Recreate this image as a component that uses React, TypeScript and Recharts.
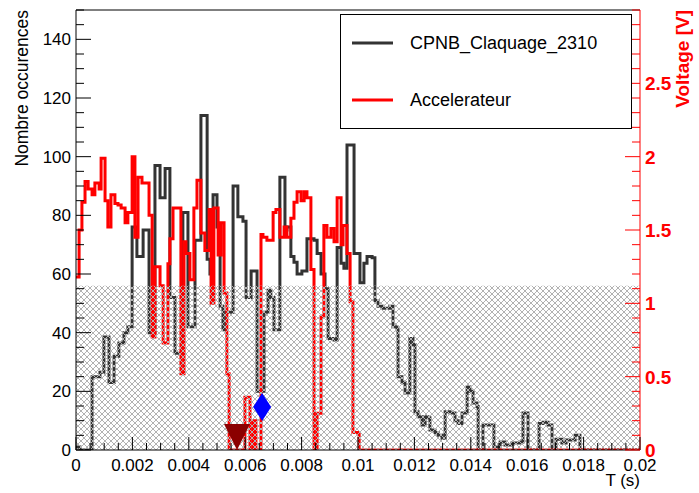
import React from 'react';
import {
  ComposedChart,
  Line,
  XAxis,
  YAxis,
  ReferenceArea,
  ReferenceDot,
  ReferenceLine,
  Legend,
} from 'recharts';

const FONT = '"Liberation Sans", Arial, Helvetica, sans-serif';

// ---- CPNB_Claquage_2310 histogram (left axis, counts), step edges in seconds
const claquageTimes = [
  0, 0.00014, 0.00057, 0.00085, 0.00099, 0.00117, 0.00135, 0.00152, 0.0017, 0.00184,
  0.00199, 0.00216, 0.00238, 0.00259, 0.0028, 0.00298, 0.00316, 0.00333, 0.00351, 0.00379,
  0.00397, 0.00422, 0.00443, 0.00465, 0.00475, 0.00486, 0.005, 0.00511, 0.00521, 0.00532,
  0.00557, 0.00574, 0.00592, 0.00603, 0.00621, 0.00642, 0.00667, 0.00681, 0.00691, 0.00702,
  0.00723, 0.00741, 0.00748, 0.00762, 0.00773, 0.00784, 0.00801, 0.00819, 0.00844, 0.00855,
  0.00869, 0.00883, 0.00894, 0.00915, 0.00926, 0.0094, 0.0095, 0.00961, 0.00986, 0.01007,
  0.01021, 0.01032, 0.0105, 0.0106, 0.01071, 0.01089, 0.01113, 0.01124, 0.01138, 0.01142,
  0.01156, 0.01167, 0.01184, 0.01195, 0.01202, 0.01213, 0.01227, 0.01238, 0.01248, 0.01255,
  0.01273, 0.01284, 0.01298, 0.01309, 0.01326, 0.01344, 0.01355, 0.01369, 0.01387, 0.01397,
  0.01408, 0.01422, 0.01426, 0.01443, 0.01482, 0.01504, 0.01521, 0.01546, 0.01574, 0.01585,
  0.01603, 0.01642, 0.01656, 0.01674, 0.01688, 0.01702, 0.01723, 0.01738, 0.0177, 0.01787, 0.02,
];
const claquageCounts = [
  1, 0, 25, 26.5, 38.5, 23, 32, 36.5, 40, 42,
  76, 66, 75, 40, 97, 86, 96, 52, 33, 81,
  42, 71.5, 114, 65, 60, 87, 76, 49, 41, 47,
  90, 79.5, 78, 52, 61, 20, 47, 54.5, 52, 41,
  93, 75, 76, 66, 64, 60, 61, 72, 71.5, 67,
  60, 55, 38, 37.5, 69, 63.7, 62, 104, 67, 57,
  63.7, 66, 65.5, 51, 49, 48.3, 49, 42, 41, 25,
  23, 19.4, 38, 36, 13, 11.3, 8.5, 11.3, 11, 6.8,
  6, 5, 4, 13, 12.6, 10, 9, 12.6, 21.5, 20,
  16, 14.8, 0, 8.5, 1, 2.7, 1.7, 2.4, 2.7, 12.6,
  0, 9, 9.5, 8.5, 0, 3.7, 2.4, 3.4, 5, 0, 0,
];

// ---- Accelerateur voltage (right axis, V)
const accelTimes = [
  0, 0.00011, 0.00021, 0.00032, 0.00043, 0.00057, 0.00067, 0.00082, 0.00089, 0.00103,
  0.00113, 0.00124, 0.00138, 0.00149, 0.0016, 0.00174, 0.00184, 0.00199, 0.00209, 0.0022,
  0.00234, 0.00259, 0.0027, 0.0028, 0.00298, 0.00309, 0.00326, 0.00333, 0.00344, 0.00372,
  0.00383, 0.0039, 0.00404, 0.00418, 0.00429, 0.00443, 0.00457, 0.00472, 0.00479, 0.00489,
  0.00504, 0.00514, 0.00525, 0.00535, 0.00543, 0.00599, 0.00617, 0.00628, 0.00638, 0.00656,
  0.00663, 0.00677, 0.00699, 0.00709, 0.00723, 0.00738, 0.00748, 0.00762, 0.00773, 0.00784,
  0.00798, 0.00809, 0.00819, 0.00833, 0.00844, 0.00855, 0.00869, 0.00879, 0.0089, 0.00904,
  0.00915, 0.00926, 0.0094, 0.00947, 0.00961, 0.00972, 0.00982, 0.01004, 0.02,
];
const accelVolts = [
  1.18, 1.5, 1.69, 1.83, 1.78, 1.74, 1.82, 1.78, 1.99, 1.7,
  1.52, 1.74, 1.68, 1.67, 1.65, 1.55, 1.62, 2.0, 1.45, 1.86,
  1.82, 1.6, 0.77, 1.25, 1.12, 0.73, 1.27, 1.44, 1.65, 0.52,
  1.42, 1.34, 1.16, 1.65, 1.84, 1.48, 1.36, 1.64, 1.0, 1.65,
  1.33, 1.55, 1.07, 0.52, 0, 0.36, 0, 0.2, 0, 1.47,
  1.45, 1.43, 1.62, 1.64, 1.45, 1.52, 1.45, 1.58, 1.69, 1.76,
  1.7, 1.76, 1.72, 1.23, 0, 0.25, 0.91, 1.53, 1.45, 1.51,
  1.42, 1.72, 1.4, 1.53, 1.34, 1.01, 0.12, 0, 0,
];

// ---- markers (time, counts)
const markerTimes = [0.00571, 0.0066];
const markerCounts = [4.4, 14.7];

// ---- hatched band (counts)
const bandTop = 56;

// ---- axes
const xTickLabels = ['0', '0.002', '0.004', '0.006', '0.008', '0.01', '0.012', '0.014', '0.016', '0.018', '0.02'];
const leftTickLabels = ['0', '20', '40', '60', '80', '100', '120', '140'];
const rightTickLabels = ['0', '0.5', '1', '1.5', '2', '2.5'];
const xMinorStep = 0.0005;
const leftMinorStep = 5;
const rightMinorStep = 0.1;

const xTicks = Array.from({ length: 41 }, (_, i) => i * xMinorStep);
const leftTicks = Array.from({ length: 31 }, (_, i) => i * leftMinorStep);
const rightTicks = Array.from({ length: 31 }, (_, i) => Math.round(i * rightMinorStep * 10) / 10);

const claquageData = claquageTimes.map((t, i) => ({ t, v: claquageCounts[i] }));
const accelData = accelTimes.map((t, i) => ({ t, v: accelVolts[i] }));

const XTick = (props: any) => {
  const { x, y, payload } = props;
  const idx = Math.round(payload.value / xMinorStep);
  const major = idx % 4 === 0;
  return (
    <g>
      <line x1={x} x2={x} y1={y} y2={y - (major ? 13 : 7)} stroke="#000" strokeWidth={1} />
      {major && (
        <text x={x} y={y + 21} textAnchor="middle" fontSize={17} fill="#000" fontFamily={FONT}>
          {xTickLabels[idx / 4]}
        </text>
      )}
    </g>
  );
};

const LeftTick = (props: any) => {
  const { x, y, payload } = props;
  const idx = Math.round(payload.value / leftMinorStep);
  const major = idx % 4 === 0 && idx / 4 < leftTickLabels.length;
  return (
    <g>
      <line x1={x} x2={x + (major ? 15 : 8)} y1={y} y2={y} stroke="#000" strokeWidth={1} />
      {major && (
        <text x={x - 5} y={y + 6} textAnchor="end" fontSize={17} fill="#000" fontFamily={FONT}>
          {leftTickLabels[idx / 4]}
        </text>
      )}
    </g>
  );
};

const RightTick = (props: any) => {
  const { x, y, payload } = props;
  const idx = Math.round(payload.value / rightMinorStep);
  const major = idx % 5 === 0 && idx / 5 < rightTickLabels.length;
  return (
    <g>
      <line x1={x} x2={x - (major ? 15 : 8)} y1={y} y2={y} stroke="#ff0000" strokeWidth={1} />
      {major && (
        <text x={x + 5} y={y + 7} textAnchor="start" fontSize={19} fontWeight="bold" fill="#ff0000" fontFamily={FONT}>
          {rightTickLabels[idx / 5]}
        </text>
      )}
    </g>
  );
};

const HatchRect = (props: any) => {
  const { x, y, width, height } = props;
  return (
    <g>
      <defs>
        <pattern id="xhatch" width="6" height="6" patternUnits="userSpaceOnUse">
          <path d="M0,0 L6,6 M6,0 L0,6" stroke="#b2b2b2" strokeWidth={1} />
        </pattern>
      </defs>
      <rect x={x} y={y} width={width} height={height} fill="url(#xhatch)" stroke="none" />
    </g>
  );
};

const TriangleDown = (props: any) => {
  const { cx, cy } = props;
  return <polygon points={`${cx - 13},${cy - 13} ${cx + 13},${cy - 13} ${cx},${cy + 13}`} fill="#8b0000" />;
};

const Diamond = (props: any) => {
  const { cx, cy } = props;
  return <polygon points={`${cx},${cy - 14} ${cx + 9},${cy} ${cx},${cy + 14} ${cx - 9},${cy}`} fill="#0000ff" />;
};

const LegendBox = () => (
  <svg width={292} height={115} style={{ display: 'block' }}>
    <rect x={0.5} y={0.5} width={291} height={114} fill="#fff" stroke="#000" strokeWidth={1} />
    <line x1={12} x2={53} y1={29} y2={29} stroke="#333" strokeWidth={3} />
    <text x={70} y={35} fontSize={18} fontFamily={FONT} fill="#000">CPNB_Claquage_2310</text>
    <line x1={12} x2={53} y1={86} y2={86} stroke="#ff0000" strokeWidth={3} />
    <text x={70} y={92} fontSize={18} fontFamily={FONT} fill="#000">Accelerateur</text>
  </svg>
);

const LeftTitle = () => (
  <text transform="translate(28,10) rotate(-90)" textAnchor="end" fontSize={17.5} fontFamily={FONT} fill="#000">
    Nombre occurences
  </text>
);
const RightTitle = () => (
  <text transform="translate(689,10) rotate(-90)" textAnchor="end" fontSize={19} fontWeight="bold" fontFamily={FONT} fill="#ff0000">
    Voltage [V]
  </text>
);
const BottomTitle = () => (
  <text x={640} y={486} textAnchor="end" fontSize={17} fontFamily={FONT} fill="#000">
    T (s)
  </text>
);

export default function App() {
  return (
    <div style={{ position: 'absolute', left: 0, top: 0, width: 699, height: 493, background: '#fff', fontFamily: FONT }}>
      <ComposedChart width={699} height={493} margin={{ top: 10, right: 19, bottom: 13, left: 16 }}>
        <XAxis
          dataKey="t"
          type="number"
          domain={[0, 0.02]}
          ticks={xTicks}
          interval={0}
          allowDataOverflow
          height={30}
          tickSize={0}
          tickMargin={0}
          tickLine={false}
          axisLine={{ stroke: '#000', strokeWidth: 1 }}
          tick={<XTick />}
          label={{ content: () => <BottomTitle /> }}
        />
        <YAxis
          yAxisId="left"
          type="number"
          domain={[0, 150]}
          ticks={leftTicks}
          interval={0}
          allowDataOverflow
          width={60}
          tickSize={0}
          tickMargin={0}
          tickLine={false}
          axisLine={{ stroke: '#000', strokeWidth: 1 }}
          tick={<LeftTick />}
          label={{ content: () => <LeftTitle /> }}
        />
        <YAxis
          yAxisId="right"
          orientation="right"
          type="number"
          domain={[0, 3]}
          ticks={rightTicks}
          interval={0}
          allowDataOverflow
          width={40}
          tickSize={0}
          tickMargin={0}
          tickLine={false}
          axisLine={{ stroke: '#ff0000', strokeWidth: 1 }}
          tick={<RightTick />}
          label={{ content: () => <RightTitle /> }}
        />
        <ReferenceLine yAxisId="left" y={150} stroke="#000" strokeWidth={1} ifOverflow="extendDomain" />
        <Line
          yAxisId="left"
          data={claquageData}
          dataKey="v"
          type="stepAfter"
          stroke="#333333"
          strokeWidth={3}
          dot={false}
          activeDot={false}
          isAnimationActive={false}
        />
        <Line
          yAxisId="right"
          data={accelData}
          dataKey="v"
          type="stepAfter"
          stroke="#ff0000"
          strokeWidth={3}
          dot={false}
          activeDot={false}
          isAnimationActive={false}
        />
        <ReferenceArea
          yAxisId="left"
          x1={0}
          x2={0.02}
          y1={0}
          y2={bandTop}
          shape={<HatchRect />}
          zIndex={450}
        />
        <ReferenceDot
          yAxisId="left"
          x={markerTimes[0]}
          y={markerCounts[0]}
          shape={<TriangleDown />}
          zIndex={600}
        />
        <ReferenceDot
          yAxisId="left"
          x={markerTimes[1]}
          y={markerCounts[1]}
          shape={<Diamond />}
          zIndex={600}
        />
        <Legend
          layout="horizontal"
          verticalAlign="middle"
          align="center"
          width={292}
          height={115}
          wrapperStyle={{ left: 340, top: 14, width: 292, height: 115 }}
          content={() => <LegendBox />}
        />
      </ComposedChart>
    </div>
  );
}
